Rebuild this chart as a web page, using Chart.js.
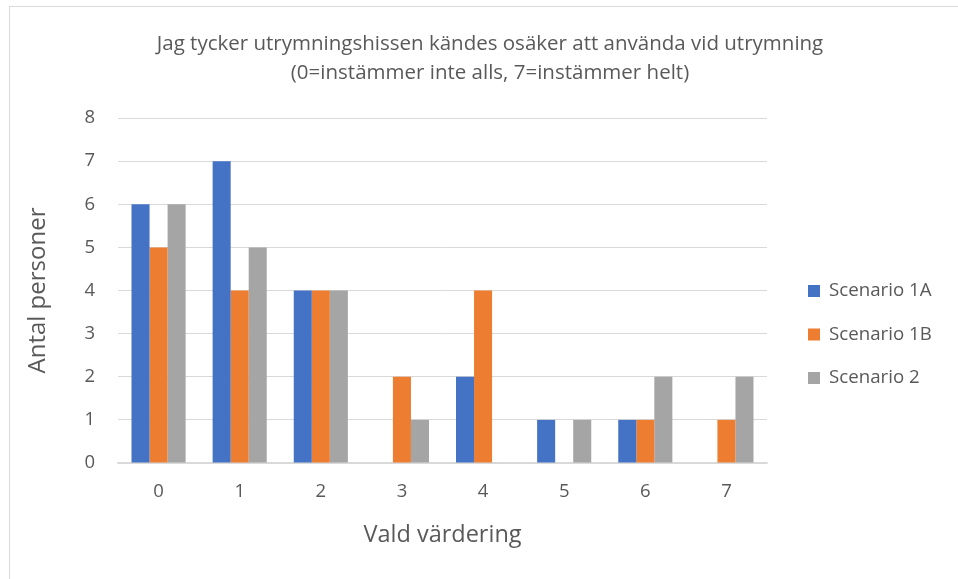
<!DOCTYPE html>
<html>
<head>
<meta charset="utf-8">
<script src="https://cdn.jsdelivr.net/npm/chart.js@4.4.1/dist/chart.umd.min.js"></script>
<style>
  body { margin: 0; background: #fff; }
  #frame { position: absolute; left: 9px; top: 6px; width: 2000px; height: 2000px; border: 1px solid #d9d9d9; }
  #wrap { position: absolute; left: 0; top: 0; width: 958px; height: 579px; }
</style>
</head>
<body>
<div id="frame"></div>
<div id="wrap"><canvas id="myChart" width="958" height="579"></canvas></div>
<script>
const categories = ['0', '1', '2', '3', '4', '5', '6', '7'];
const scenario1A = [6, 7, 4, 0, 2, 1, 1, 0];
const scenario1B = [5, 4, 4, 2, 4, 0, 1, 1];
const scenario2 = [6, 5, 4, 1, 0, 1, 2, 2];

const textColor = '#595959';
const fontFamily = "'Open Sans', sans-serif";

// legend drawn to the right of the plot, like the Excel original
const sideLegend = {
  id: 'sideLegend',
  afterDraw(chart) {
    const { ctx, chartArea } = chart;
    const x = chartArea.right + 41;
    ctx.save();
    ctx.font = '18.7px ' + fontFamily;
    ctx.textBaseline = 'middle';
    ctx.textAlign = 'left';
    chart.data.datasets.forEach((ds, i) => {
      const y = chartArea.top + 173 + i * 43.5;
      ctx.fillStyle = ds.backgroundColor;
      ctx.fillRect(x, y - 6, 12, 12);
      ctx.fillStyle = textColor;
      ctx.fillText(ds.label, x + 21, y);
    });
    ctx.restore();
  }
};

const ctx = document.getElementById('myChart').getContext('2d');
new Chart(ctx, {
  type: 'bar',
  data: {
    labels: categories,
    datasets: [{
      label: 'Scenario 1A',
      data: scenario1A,
      backgroundColor: '#4472C4',
    }, {
      label: 'Scenario 1B',
      data: scenario1B,
      backgroundColor: '#ED7D31',
    }, {
      label: 'Scenario 2',
      data: scenario2,
      backgroundColor: '#A5A5A5',
    }]
  },
  options: {
    responsive: false,
    animation: false,
    layout: { padding: { left: 22, right: 0, top: 0, bottom: 29.6 } },
    datasets: { bar: { categoryPercentage: 0.667, barPercentage: 1 } },
    plugins: {
      legend: { display: false },
      tooltip: { enabled: false },
      title: {
        display: true,
        text: ['Jag tycker utrymningshissen kändes osäker att använda vid utrymning', '(0=instämmer inte alls, 7=instämmer helt)'],
        color: textColor,
        font: { family: fontFamily, size: 20.5, weight: 'normal', lineHeight: 29 / 20.5 },
        padding: { top: 29.5, bottom: 30.5 }
      }
    },
    scales: {
      x: {
        grid: { display: false, drawTicks: false },
        border: { display: true, color: '#d9d9d9', width: 1.5 },
        ticks: { color: textColor, padding: 17.9, font: { family: fontFamily, size: 18.5 } },
        title: {
          display: true,
          text: 'Vald värdering',
          color: textColor,
          padding: { top: 0, bottom: 0 },
          font: { family: fontFamily, size: 23.5 }
        },
        afterFit: s => { s.height = 86.4; }
      },
      y: {
        min: 0,
        max: 8,
        ticks: { stepSize: 1, color: textColor, padding: 23, font: { family: fontFamily, size: 18.5 } },
        grid: { color: '#d9d9d9', drawTicks: false },
        border: { display: false },
        title: {
          display: true,
          text: 'Antal personer',
          color: textColor,
          padding: { top: 1.6, bottom: 0 },
          font: { family: fontFamily, size: 24 }
        },
        afterFit: s => { s.width = 96; }
      },
      // empty axis on the right that keeps room for the legend
      side: {
        position: 'right',
        display: true,
        grid: { display: false, drawTicks: false },
        border: { display: false },
        ticks: { display: false },
        afterFit: s => { s.width = 191; }
      }
    }
  },
  plugins: [sideLegend]
});
</script>
</body>
</html>
